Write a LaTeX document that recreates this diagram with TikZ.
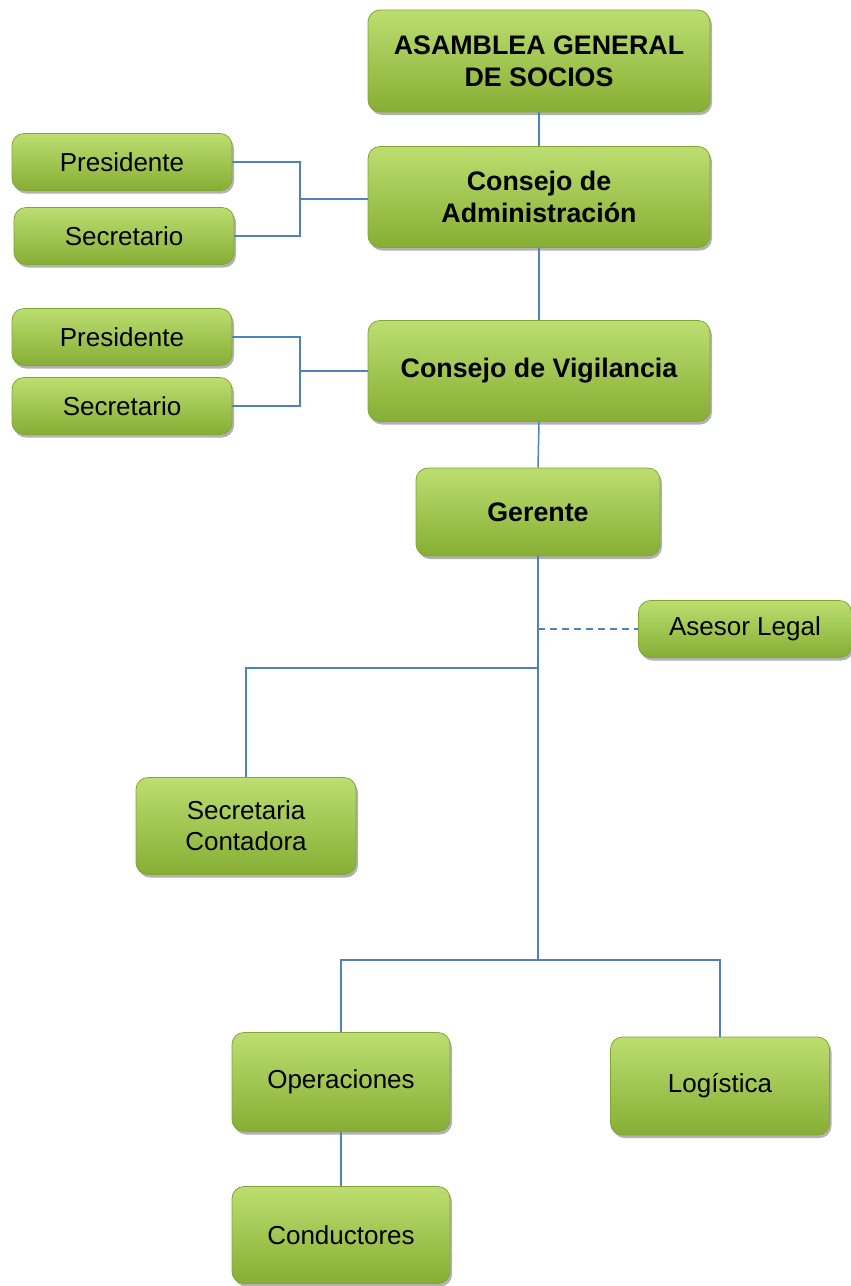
\documentclass[tikz,border=0pt]{standalone}
\usepackage{fontspec}
\setmainfont{Liberation Sans}
\usetikzlibrary{shadows}
\definecolor{gtop}{RGB}{188,222,112}
\definecolor{gbot}{RGB}{134,174,52}
\definecolor{gline}{RGB}{128,166,52}
\definecolor{conn}{RGB}{79,129,189}
\tikzset{
  box/.style={rectangle, rounded corners=12pt, draw=gline, line width=0.8pt,
    top color=gtop, bottom color=gbot, inner sep=0pt, align=center,
    font=\fontsize{26}{31}\selectfont,
    drop shadow={shadow xshift=2pt, shadow yshift=-3pt, fill=black, opacity=0.3}},
  bbox/.style={box, font=\fontsize{26.8}{32}\selectfont\bfseries},
  link/.style={draw=conn, line width=1.5pt},
  dlink/.style={link, dash pattern=on 7pt off 5pt}
}
\begin{document}
\begin{tikzpicture}[x=1pt,y=-1pt]
\useasboundingbox (0,0) rectangle (851,1286);
\node[bbox, minimum width=342pt, minimum height=102pt] (asm) at (539,61) {ASAMBLEA GENERAL\\DE SOCIOS};
\node[bbox, minimum width=342pt, minimum height=101pt] (adm) at (539,197) {Consejo de\\Administración};
\node[box, minimum width=220pt, minimum height=57pt] (p1) at (122,162) {Presidente};
\node[box, minimum width=220pt, minimum height=57pt] (s1) at (124,236) {Secretario};
\node[bbox, minimum width=342pt, minimum height=101pt] (vig) at (539,371) {Consejo de Vigilancia};
\node[box, minimum width=220pt, minimum height=57pt] (p2) at (122,337) {Presidente};
\node[box, minimum width=220pt, minimum height=57pt] (s2) at (122,406) {Secretario};
\node[bbox, minimum width=244pt, minimum height=88pt] (ger) at (538,512) {Gerente};
\node[box, minimum width=213pt, minimum height=57pt] (al) at (745,629) {Asesor Legal};
\node[box, minimum width=220pt, minimum height=97pt] (sc) at (246,826) {Secretaria\\Contadora};
\node[box, minimum width=218pt, minimum height=99pt] (op) at (341,1082) {Operaciones};
\node[box, minimum width=219pt, minimum height=98pt] (lo) at (720,1086) {Logística};
\node[box, minimum width=218pt, minimum height=97pt] (co) at (341,1235) {Conductores};

\coordinate (b1) at (300,199);
\coordinate (b2) at (300,371);
\coordinate (j1) at (538,668);
\coordinate (j2) at (538,960);
\coordinate (d1) at (538,629);

\draw[link] (asm.south) -- (adm.north);
\draw[link] (adm.south) -- (vig.north);
\draw[link] (vig.south) -- (ger.north);
\draw[link] (p1.east) -| (b1) |- (s1.east);
\draw[link] (b1) -- (b1 -| adm.west);
\draw[link] (p2.east) -| (b2) |- (s2.east);
\draw[link] (b2) -- (vig.west);
\draw[link] (ger.south) -- (j2);
\draw[dlink] (d1) -- (al.west);
\draw[link] (sc.north) |- (j1);
\draw[link] (op.north) |- (j2);
\draw[link] (lo.north) |- (j2);
\draw[link] (op.south) -- (co.north);
\end{tikzpicture}
\end{document}
